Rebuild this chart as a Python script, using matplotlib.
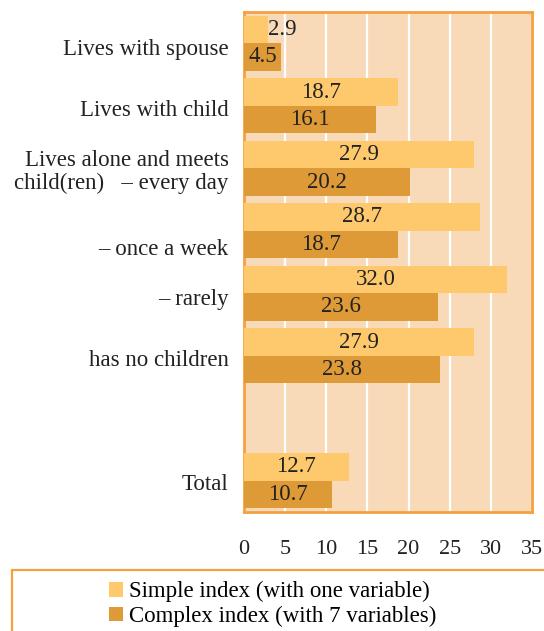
import numpy as np
import matplotlib.pyplot as plt
from matplotlib.patches import Rectangle

categories = ["Lives with spouse", "Lives with child",
              "Lives alone and meets\nchild(ren)   \u2013 every day",
              "\u2013 once a week", "\u2013 rarely", "has no children", "Total"]
simple_idx = [2.9, 18.7, 27.9, 28.7, 32.0, 27.9, 12.7]
complex_idx = [4.5, 16.1, 20.2, 18.7, 23.6, 23.8, 10.7]
series_names = ["Simple index (with one variable)", "Complex index (with 7 variables)"]

# row slots, leaving an empty one before the total
rows = np.array([0, 1, 2, 3, 4, 5, 7])
label_shift = [0.06, 0.04, 0.0, 0.26, 0.06, 0.04, 0.02]

c_simple = "#fec96d"
c_complex = "#de9a36"
c_bg = "#f8dab9"
c_edge = "#f7a040"
c_text = "#222222"

plt.rcParams["font.family"] = ["Liberation Serif", "DejaVu Serif"]

fig = plt.figure(figsize=(5.44, 6.31), dpi=100)
ax = fig.add_axes([244 / 544, 1 - 512 / 631, 288 / 544, 500 / 631])
ax.set_facecolor(c_bg)

h = 0.44
b1 = ax.barh(rows - h / 2, simple_idx, height=h, color=c_simple, zorder=3)
b2 = ax.barh(rows + h / 2, complex_idx, height=h, color=c_complex, zorder=3)

for bars, vals in ((b1, simple_idx), (b2, complex_idx)):
    for bar, v in zip(bars, vals):
        yc = bar.get_y() + bar.get_height() / 2
        if v < 4:
            ax.text(v, yc, f"{v:.1f}", ha="left", va="center",
                    fontsize=16.5, color=c_text, zorder=4)
        else:
            ax.text(v / 2, yc, f"{v:.1f}", ha="center", va="center",
                    fontsize=16.5, color=c_text, zorder=4)

ax.set_xlim(0, 35)
ax.set_ylim(7.5, -0.5)
ax.set_xticks(np.arange(0, 36, 5))
ax.tick_params(axis="x", length=0, pad=20, labelsize=16, labelcolor=c_text)
ax.set_yticks(rows + np.array(label_shift))
ax.set_yticklabels(categories, fontsize=16.5, color=c_text, linespacing=1.15)
ax.tick_params(axis="y", length=0, pad=11)

ax.xaxis.grid(True, color="white", linewidth=1.6, zorder=1)
ax.set_axisbelow(True)
for sp in ax.spines.values():
    sp.set_color(c_edge)
    sp.set_linewidth(2.0)

# legend box running off the bottom right of the figure
fig.patches.append(Rectangle((12 / 544, -0.05), 1.0, 1 - 570 / 631 + 0.05,
                             transform=fig.transFigure, fill=False,
                             edgecolor=c_edge, linewidth=1.6, clip_on=False))
fig.legend([b1, b2], series_names, loc="upper left",
           bbox_to_anchor=(100 / 544, 1 - 572 / 631), frameon=False,
           fontsize=16.5, handlelength=0.6, handleheight=0.6,
           handletextpad=0.25, labelspacing=0.15, borderaxespad=0)

fig.savefig("out.png", dpi=100)
